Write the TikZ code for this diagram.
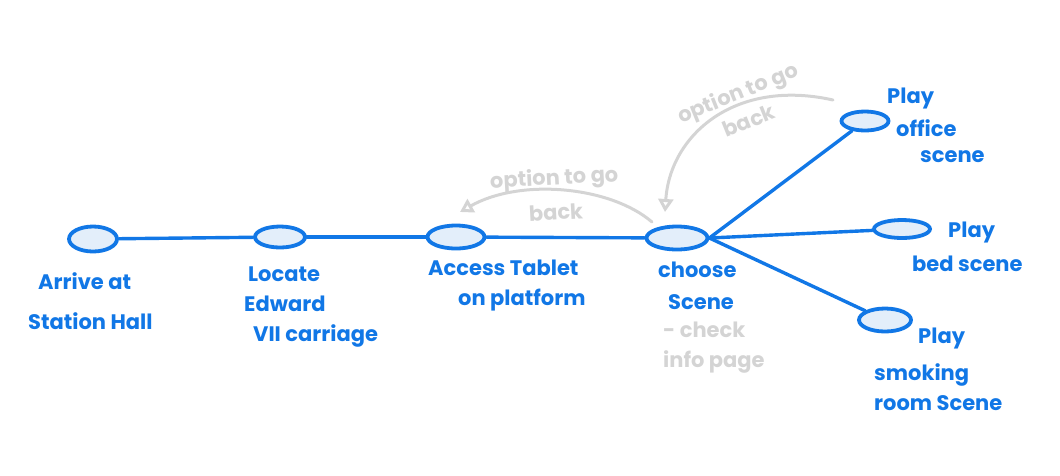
\documentclass[tikz,border=0pt]{standalone}
\usepackage{fontspec}
\setmainfont{Poppins}
\usetikzlibrary{shapes.geometric, arrows.meta}
\definecolor{penBlue}{HTML}{1177E6}
\definecolor{penFill}{HTML}{E3EEFA}
\definecolor{penGrey}{HTML}{D4D4D4}
\newcommand{\myStop}[4]{
\node[stopNode, minimum width=#3, minimum height=#4] (#1) at (#2) {};
}
\newcommand{\myCaption}[3]{
\node[caption] (#1) at (#2) {#3};
}

\begin{document}
\begin{tikzpicture}[x=1pt, y=-1pt,
	stopNode/.style={ellipse, draw=penBlue, fill=penFill, line width=3.8pt, inner sep=0pt},
	leg/.style={penBlue, line width=3.4pt, line cap=round},
	caption/.style={anchor=north west, align=left, inner sep=0pt, text=penBlue,
		font=\fontsize{21}{30}\selectfont\bfseries},
	note/.style={align=center, inner sep=0pt, text=penGrey,
		font=\fontsize{21}{30}\selectfont\bfseries},
	goBack/.style={penGrey, line width=3pt, line cap=round,
		-{Triangle[open, length=13pt, width=15pt]}}
]
	\useasboundingbox (0,0) rectangle (1060,475);

	% stops along the route
	\myStop{arrive}{93,239}{48pt}{25pt}
	\myStop{locate}{280,237}{50pt}{21pt}
	\myStop{access}{456,237}{57pt}{23pt}
	\myStop{choose}{677,238}{61pt}{23pt}
	\myStop{office}{865,121}{47pt}{19pt}
	\myStop{bed}{902,229}{56pt}{18pt}
	\myStop{smoking}{885,320}{52pt}{23pt}

	\draw[leg] (arrive) -- (locate);
	\draw[leg] (locate) -- (access);
	\draw[leg] (access) -- (choose);
	\draw[leg] (choose.east) -- (office);
	\draw[leg] (choose.east) -- (bed);
	\draw[leg] (choose.east) -- (smoking);

	% captions
	\myCaption{arriveText}{28,272}{\hspace{10pt}Arrive at\\[10pt]Station Hall}
	\myCaption{locateText}{244,267}{\hspace{4pt}Locate\\Edward\\\hspace{9pt}VII carriage}
	\myCaption{accessText}{428,260}{Access Tablet\\\hspace{30pt}on platform}
	\myCaption{chooseText}{658,262}{choose\\[2pt]\hspace{10pt}Scene}
	\myCaption{officeText}{887,88}{Play\\[3pt]\hspace{9pt}office\\[-4pt]\hspace{33pt}scene}
	\myCaption{bedText}{912,222}{\hspace{36pt}Play\\[4pt]bed scene}
	\myCaption{smokingText}{874,328}{\hspace{44pt}Play\\[7pt]smoking\\room Scene}
	\node[note, anchor=north west, align=left] (chooseNote) at (663,322) {- check\\info page};

	% ways back
	\coordinate (fromChoose) at (652,222);
	\coordinate (toAccess) at (460,212);
	\coordinate (fromOffice) at (833,100);
	\coordinate (toChoose) at (665,212);
	\draw[goBack] (fromChoose) .. controls (610,186) and (520,178) .. (toAccess);
	\draw[goBack] (fromOffice) .. controls (735,78) and (670,135) .. (toChoose);
	\node[note, rotate=3] (backOne) at (555,194) {option to go\\[5pt]back};
	\node[note, rotate=22] (backTwo) at (743,106) {option to go\\back};
\end{tikzpicture}
\end{document}
